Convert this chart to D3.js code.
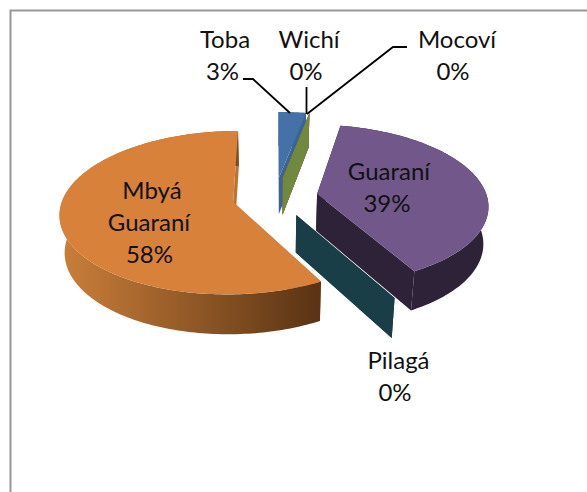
<!DOCTYPE html>
<html><head><meta charset="utf-8">
<script src="https://cdnjs.cloudflare.com/ajax/libs/d3/7.8.5/d3.min.js"></script>
<style>html,body{margin:0;background:#fff}svg{display:block}text{font-family:Lato,"Open Sans",sans-serif;font-size:24px;fill:#111;text-anchor:middle}</style>
</head><body><svg id="c" width="587" height="492"></svg>
<script>
const categories = ["Toba","Wichí","Mocoví","Guaraní","Pilagá","Mbyá Guaraní"];
const values = [3,0,0,39,0,58];
const topColors = ["#4472a8","#b0413e","#71893f","#72578b","#1a3e48","#d7813b"];
const wallColors = ["#3b6496","#8c3330","#71893f","#2e2238","#1a3e48","url(#orangeWall)"];
const faceColors = ["#3b6496","#8c3330","#71893f","#2e2238","#1a3e48","#b87436"];
const labelLayout = [
 {i:0,lines:[["Toba",225,48],["%",222.5,80]]},
 {i:1,lines:[["Wichí",309,48],["%",306,80]]},
 {i:2,lines:[["Mocoví",457,48],["%",453,80]]},
 {i:3,lines:[["Guaraní",389,180],["%",387,212]]},
 {i:4,lines:[["Pilagá",398.5,369],["%",395,401]]},
 {i:5,lines:[["Mbyá",152,199],["Guaraní",149,231],["%",149.5,263]]}
];
const leaderLayout = [
 [[243,79],[253,79],[290,113]],
 [[306.5,87],[306.5,114]],
 [[407,47],[393,47],[307,114]]
];
const svg = d3.select("#c");
const cx=275, cy=197, rx=170, ky=79, wallH=37, persp=0.13, taper=0.024, explode=0.252;
const sx = d3.scaleLinear().domain([0,1]).range([cx,cx+rx]);
const sy = d3.scaleLinear().domain([0,1]).range([cy,cy-ky]);
function project(X,Y,z){
  const s=1/(1+persp*Y);
  return [cx+(sx(X)-cx)*s*(1-taper*z), cy+(sy(Y)-cy)*s+wallH*z*Math.sqrt(s)];
}
const defs=svg.append("defs");
const g=defs.append("linearGradient").attr("id","orangeWall").attr("gradientUnits","userSpaceOnUse")
  .attr("x1",60).attr("x2",317).attr("y1",0).attr("y2",0);
g.append("stop").attr("offset",0).attr("stop-color","#cb7f3a");
g.append("stop").attr("offset",1).attr("stop-color","#5a3414");

svg.append("path").attr("d","M10.5,492V10.5H587").attr("fill","none").attr("stroke","#979797").attr("stroke-width",2);

const arcs=d3.pie().sort(null).startAngle(0).endAngle(2*Math.PI)(values);
const line=d3.line();
function geom(d){
  const mid=(d.startAngle+d.endAngle)/2;
  const ox=explode*Math.sin(mid), oy=explode*Math.cos(mid);
  const pt=(a,r,z)=>project(ox+r*Math.sin(a),oy+r*Math.cos(a),z);
  const n=Math.max(1,Math.ceil((d.endAngle-d.startAngle)/0.02));
  const as=d3.range(n+1).map(k=>d.startAngle+(d.endAngle-d.startAngle)*k/n);
  return {pt,as};
}
function drawSlice(d,i){
  const {pt,as}=geom(d);
  const cut=a=>[pt(a,0,0),pt(a,1,0),pt(a,1,1),pt(a,0,1)];
  svg.append("path").attr("d",line(cut(d.startAngle))+"Z").attr("fill",faceColors[i]);
  svg.append("path").attr("d",line(cut(d.endAngle))+"Z").attr("fill",faceColors[i]);
  if(d.value>0){
    const wall=as.map(a=>pt(a,1,0)).concat(as.slice().reverse().map(a=>pt(a,1,1)));
    svg.append("path").attr("d",line(wall)+"Z").attr("fill",wallColors[i]);
    const top=[pt(0,0,0)].concat(as.map(a=>pt(a,1,0)));
    svg.append("path").attr("d",line(top)+"Z").attr("fill",topColors[i]);
  }
}
arcs.forEach((d,i)=>drawSlice(d,i));

leaderLayout.forEach(p=>svg.append("path").attr("d",line(p)).attr("fill","none").attr("stroke","#000").attr("stroke-width",1.8));

const total=d3.sum(values);
labelLayout.forEach(l=>l.lines.forEach(t=>{
  svg.append("text").attr("x",t[1]).attr("y",t[2])
    .text(t[0]==="%"?d3.format(".0%")(values[l.i]/total):t[0]);
}));
</script></body></html>
